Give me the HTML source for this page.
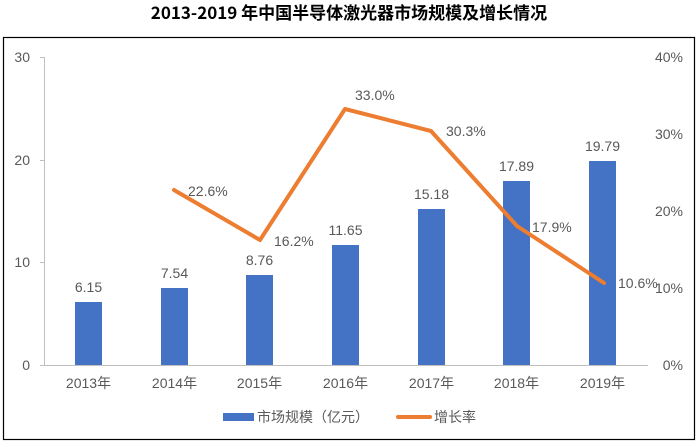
<!DOCTYPE html>
<html><head><meta charset="utf-8"><style>
html,body{margin:0;padding:0;background:#fff;}
svg{display:block;}
text{font-family:"Liberation Sans Narrow","Liberation Sans","Noto Sans CJK SC",sans-serif;fill:#595959;font-size:14px;}
</style></head><body>
<svg width="697" height="447" viewBox="0 0 697 447" xmlns="http://www.w3.org/2000/svg">
<rect x="0" y="0" width="697" height="447" fill="#fff"/>
<text x="349" y="19" text-anchor="middle" style="font-size:17px;font-weight:bold;fill:#000;font-family:'Liberation Sans Narrow','Noto Sans CJK SC',sans-serif">2013-2019 年中国半导体激光器市场规模及增长情况</text>
<rect x="3.5" y="37.5" width="691" height="402" fill="none" stroke="#000" stroke-width="1.2"/>
<!-- axes -->
<line x1="44.5" y1="57" x2="44.5" y2="365" stroke="#bfbfbf"/>
<line x1="40" y1="57.5" x2="44.5" y2="57.5" stroke="#bfbfbf"/>
<line x1="40" y1="160.5" x2="44.5" y2="160.5" stroke="#bfbfbf"/>
<line x1="40" y1="262.5" x2="44.5" y2="262.5" stroke="#bfbfbf"/>
<line x1="40" y1="365.5" x2="648" y2="365.5" stroke="#bfbfbf"/>
<g text-anchor="end">
<text x="30" y="62">30</text><text x="30" y="165">20</text><text x="30" y="267">10</text><text x="30" y="370">0</text>
</g>
<g text-anchor="end">
<text x="683" y="62">40%</text><text x="683" y="139">30%</text><text x="683" y="216">20%</text><text x="683" y="293">10%</text><text x="683" y="370">0%</text>
</g>
<!-- bars -->
<g fill="#4472c4">
<rect x="75" y="302" width="27" height="63"/>
<rect x="161" y="288" width="27" height="77"/>
<rect x="246" y="275" width="27" height="90"/>
<rect x="332" y="245" width="27" height="120"/>
<rect x="418" y="209" width="27" height="156"/>
<rect x="503" y="181" width="27" height="184"/>
<rect x="589" y="161" width="27" height="204"/>
</g>
<g text-anchor="middle">
<text x="88.5" y="292">6.15</text>
<text x="174.5" y="278">7.54</text>
<text x="259.5" y="265">8.76</text>
<text x="345.5" y="235">11.65</text>
<text x="431.5" y="199">15.18</text>
<text x="516.5" y="171">17.89</text>
<text x="602.5" y="151">19.79</text>
</g>
<polyline points="174,190 260,240 345,109 431,131 517,226 604,283" fill="none" stroke="#ed7d31" stroke-width="4" stroke-linejoin="round" stroke-linecap="round"/>
<text x="188" y="196">22.6%</text>
<text x="274" y="246">16.2%</text>
<text x="355" y="100">33.0%</text>
<text x="446" y="136">30.3%</text>
<text x="532" y="232">17.9%</text>
<text x="618" y="288">10.6%</text>
<g text-anchor="middle">
<text x="88.5" y="388">2013年</text><text x="174.5" y="388">2014年</text><text x="259.5" y="388">2015年</text><text x="345.5" y="388">2016年</text><text x="431.5" y="388">2017年</text><text x="516.5" y="388">2018年</text><text x="602.5" y="388">2019年</text>
</g>
<rect x="223" y="413" width="31" height="8" fill="#4472c4"/>
<text x="257" y="422">市场规模（亿元）</text>
<line x1="398" y1="417" x2="430" y2="417" stroke="#ed7d31" stroke-width="4" stroke-linecap="round"/>
<text x="434" y="422">增长率</text>
</svg>
</body></html>
